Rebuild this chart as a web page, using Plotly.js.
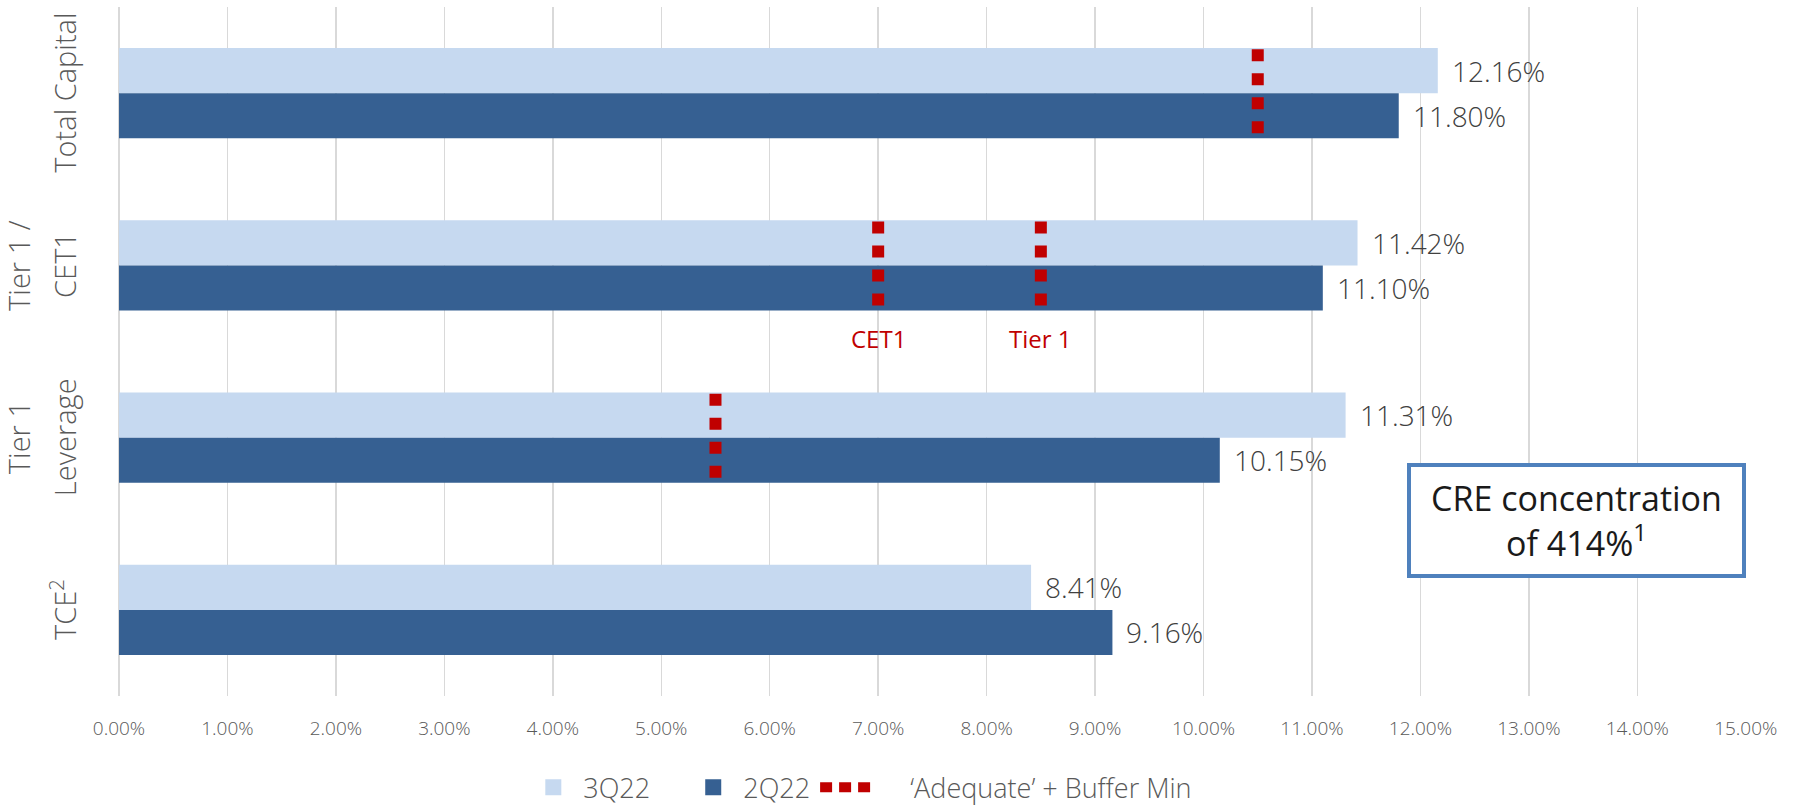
<!DOCTYPE html>
<html><head><meta charset="utf-8">
<script src="https://cdn.plot.ly/plotly-3.0.1.min.js"></script>
<style>html,body{margin:0;padding:0;background:#fff;} #chart{width:1794px;height:809px;}</style>
</head><body><div id="chart"></div>
<script>
// ---- data ----
const categories = ['Total Capital', 'Tier 1 /<br>CET1', 'Tier 1<br>Leverage', 'TCE<sup>2</sup>'];
const series3Q22 = [12.16, 11.42, 11.31, 8.41];
const series2Q22 = [11.80, 11.10, 10.15, 9.16];
const seriesNames = ['3Q22', '2Q22', '\u2018Adequate\u2019 + Buffer Min'];
const minCategory = [0, 1, 1, 2];
const minValues = [10.5, 7.0, 8.5, 5.5];
const minLabels = ['', 'CET1', 'Tier 1', ''];
const boxText = 'CRE concentration<br>of 414%<sup>1</sup>';

// ---- style ----
const F = '"Open Sans", "Noto Sans", sans-serif';
const LIGHT = '#C6D9F0', DARK = '#366092', RED = '#C00000';
const BARGAP = 0.477;
const half = (1 - BARGAP) / 4; // centre offset of each bar in a pair
const idx = categories.map((c, i) => i);
const NB = '\u00A0';

const traces = [
  {type:'bar', orientation:'h', name:seriesNames[0], x:series3Q22, y:idx,
   marker:{color:LIGHT}, hoverinfo:'x', showlegend:false},
  {type:'bar', orientation:'h', name:seriesNames[1], x:series2Q22, y:idx,
   marker:{color:DARK}, hoverinfo:'x', showlegend:false}
];
minValues.forEach((v, i) => {
  const c = minCategory[i];
  traces.push({type:'scatter', mode:'lines', x:[v, v], y:[c - 0.255, c + 0.233],
    line:{color:RED, width:12, dash:'12px,12px'}, showlegend:false, hoverinfo:'skip'});
});
// legend entries
traces.push({type:'scatter', mode:'markers', name:seriesNames[0] + NB.repeat(4), x:[null], y:[null],
  marker:{symbol:'square', size:16, color:LIGHT}});
traces.push({type:'scatter', mode:'markers', name:seriesNames[1], x:[null], y:[null],
  marker:{symbol:'square', size:16, color:DARK}});
traces.push({type:'scatter', mode:'lines', name:NB.repeat(5) + seriesNames[2], x:[null], y:[null],
  line:{color:RED, width:12, dash:'12px,7px'}});

const annotations = [];
categories.forEach((c, i) => {
  const lines = c.split('<br>');
  lines.forEach((ln, j) => {
    annotations.push({xref:'paper', yref:'y', x:0, y:i, xanchor:'right', yanchor:'middle',
      xshift:-33 - (lines.length - 1 - j) * 46, text:ln, textangle:-90, showarrow:false,
      font:{family:F, size:29, color:'#595959', weight:300}});
  });
});
[series3Q22, series2Q22].forEach((s, k) => {
  s.forEach((v, i) => {
    annotations.push({xref:'x', yref:'y', x:v, y:i + (k === 0 ? -half : half),
      xanchor:'left', yanchor:'middle', xshift:12, text:v.toFixed(2) + '%', showarrow:false,
      font:{family:F, size:28, color:'#404040', weight:300}});
  });
});
minLabels.forEach((t, i) => {
  if (!t) return;
  annotations.push({xref:'x', yref:'y', x:minValues[i], y:minCategory[i] + 0.423,
    xanchor:'center', yanchor:'middle', text:t, showarrow:false,
    font:{family:F, size:24, color:RED}});
});
annotations.push({xref:'paper', yref:'paper', x:0.896, y:0.255, xanchor:'center', yanchor:'middle',
  text:boxText, showarrow:false, width:331, height:107, borderwidth:4, borderpad:0,
  bordercolor:'#4F81BD', bgcolor:'#fff', font:{family:F, size:34, color:'#1A1A1A'}});

const layout = {
  width:1794, height:809,
  margin:{l:119, r:48, t:7, b:113, pad:0, autoexpand:false},
  paper_bgcolor:'#fff', plot_bgcolor:'#fff',
  barmode:'group', bargap:BARGAP, bargroupgap:0,
  xaxis:{range:[0, 15.002], tick0:0, dtick:1, tickformat:'.2f', ticksuffix:'%',
    showgrid:true, gridcolor:'#D9D9D9', gridwidth:1.5, zeroline:true, zerolinecolor:'#D9D9D9',
    zerolinewidth:1.5, showline:false, ticks:'', ticklabelstandoff:19, automargin:false,
    tickfont:{family:F, size:19, color:'#595959', weight:300}, fixedrange:true},
  yaxis:{range:[3.5, -0.5], showticklabels:false, showgrid:false, zeroline:false, ticks:'',
    fixedrange:true, automargin:false},
  showlegend:true,
  legend:{orientation:'h', x:0.2485, xanchor:'left', y:-0.133, yanchor:'middle',
    itemwidth:50, traceorder:'normal', itemsizing:'trace',
    font:{family:F, size:27, color:'#595959', weight:300}},
  annotations:annotations
};
Plotly.newPlot('chart', traces, layout, {displayModeBar:false, staticPlot:true});
</script></body></html>
